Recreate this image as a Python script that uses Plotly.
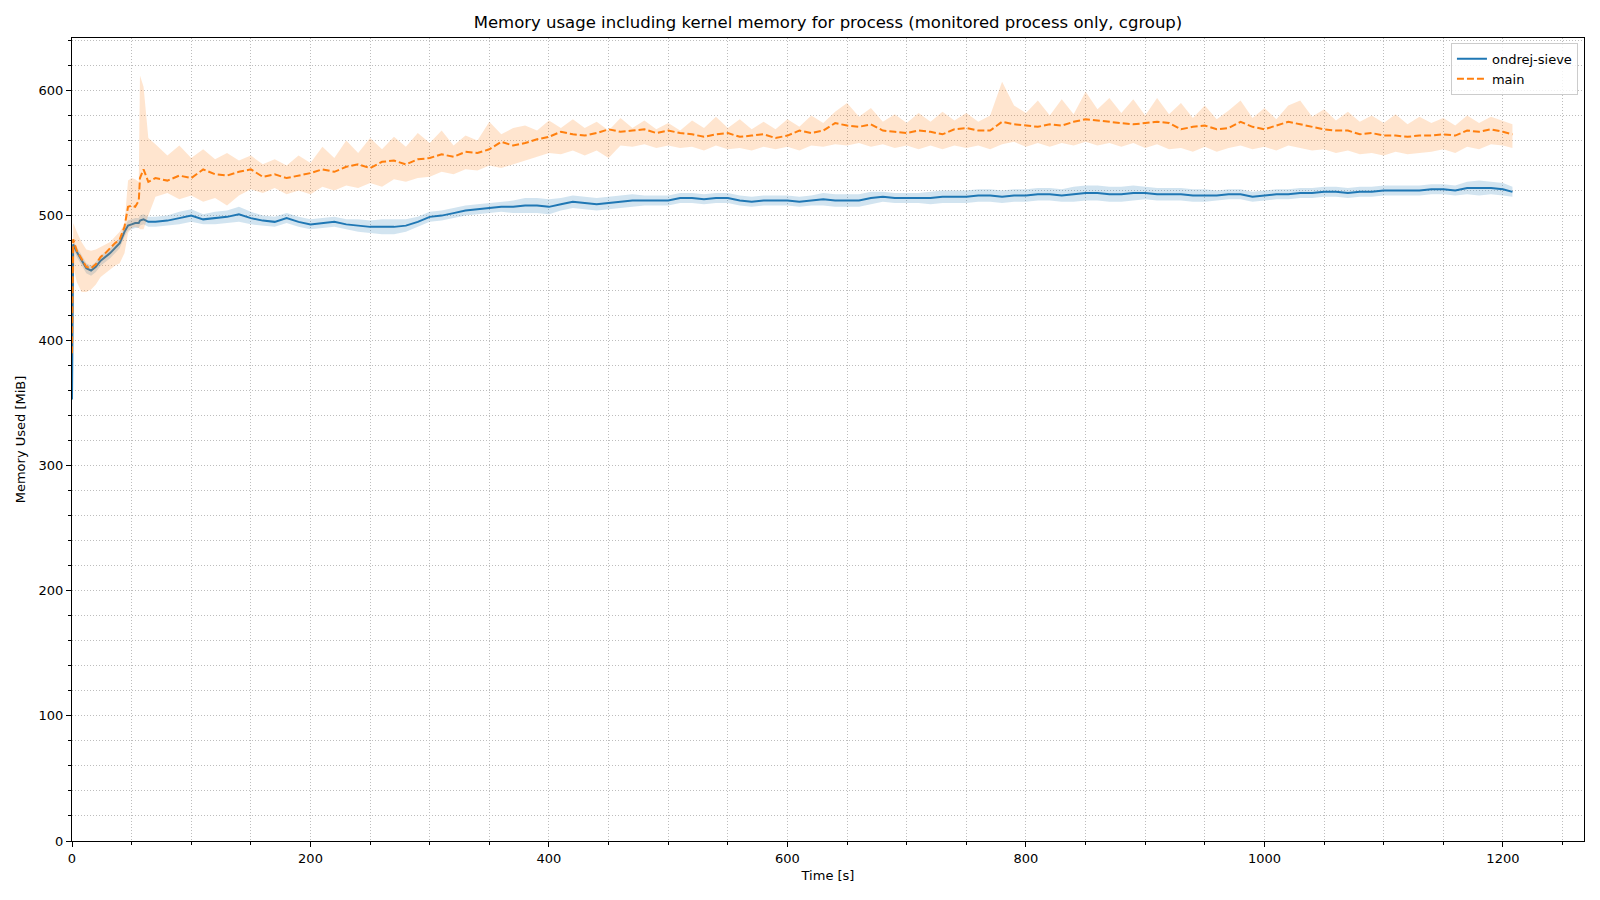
import plotly.graph_objects as go

# sample times [s]
time_early = [0, 1, 4, 8, 12, 16, 20, 24, 28, 32, 36, 40, 44, 47, 50, 53, 56, 57, 60, 64]
time_late = list(range(70, 1201, 10)) + [1208]
time = time_early + time_late

# ondrej-sieve (mean and half spread of band) [MiB]
sieve_mean = [353, 477, 471, 464, 458, 456, 459, 464, 467, 470, 474, 478, 487, 492, 493, 494, 494, 496, 497, 495,
              495, 496, 498, 500, 497, 498, 499, 501, 498, 496,
              495, 498, 495, 493, 494, 495, 493, 492, 491, 491,
              491, 492, 495, 499, 500, 502, 504, 505, 506, 507,
              507, 508, 508, 507, 509, 511, 510, 509, 510, 511,
              512, 512, 512, 512, 514, 514, 513, 514, 514, 512,
              511, 512, 512, 512, 511, 512, 513, 512, 512, 512,
              514, 515, 514, 514, 514, 514, 515, 515, 515, 516,
              516, 515, 516, 516, 517, 517, 516, 517, 518, 518,
              517, 517, 518, 518, 517, 517, 517, 516, 516, 516,
              517, 517, 515, 516, 517, 517, 518, 518, 519, 519,
              518, 519, 519, 520, 520, 520, 520, 521, 521, 520,
              522, 522, 522, 521, 519]
sieve_spread = [1, 3, 4, 4, 4, 4, 4, 4, 4, 4, 4, 4, 4, 4, 4, 4, 4, 4, 4, 4,
                4, 4, 5, 5, 4, 5, 5, 6, 5, 4,
                4, 4, 4, 4, 4, 4, 4, 5, 5, 6,
                6, 5, 4, 4, 4, 4, 4, 4, 4, 4,
                5, 6, 6, 6, 5, 5, 5, 5, 5, 5,
                5, 4, 4, 4, 4, 4, 4, 4, 4, 4,
                4, 4, 4, 4, 4, 4, 5, 5, 5, 5,
                5, 4, 4, 4, 4, 5, 5, 5, 5, 5,
                5, 5, 5, 5, 5, 5, 5, 6, 6, 6,
                6, 6, 6, 5, 5, 5, 5, 5, 5, 4,
                4, 4, 4, 4, 4, 4, 4, 4, 4, 4,
                4, 4, 4, 4, 4, 4, 4, 4, 4, 4,
                5, 6, 5, 5, 4]

# main (mean, band top, band bottom) [MiB]
main_mean = [390, 481, 472, 466, 459, 458, 461, 467, 470, 474, 478, 481, 491, 507, 508, 507, 512, 530, 537, 527,
             530, 528, 532, 530, 537, 533, 532, 535, 537, 531,
             533, 530, 532, 534, 537, 535, 539, 541, 538, 543,
             544, 541, 545, 546, 549, 547, 551, 550, 553, 559,
             556, 558, 561, 563, 567, 565, 564, 566, 569, 567,
             568, 569, 566, 568, 566, 565, 563, 565, 566, 563,
             564, 565, 562, 564, 568, 566, 568, 574, 572, 571,
             573, 568, 567, 566, 568, 567, 565, 569, 570, 568,
             568, 575, 573, 572, 571, 573, 572, 575, 577, 576,
             575, 574, 573, 574, 575, 574, 569, 571, 572, 569,
             570, 575, 571, 569, 572, 575, 573, 571, 569, 568,
             568, 565, 566, 564, 564, 563, 564, 564, 565, 564,
             568, 567, 569, 567, 565]
main_hi = [400, 494, 487, 479, 473, 472, 473, 475, 477, 479, 483, 487, 493, 528, 530, 529, 527, 612, 603, 562,
           557, 548, 556, 546, 553, 545, 550, 544, 548, 541,
           545, 540, 548, 542, 555, 546, 560, 550, 562, 553,
           563, 555, 566, 558, 568, 556, 564, 560, 575, 565,
           570, 572, 568, 576, 570, 577, 570, 575, 568, 578,
           570, 576, 569, 574, 568, 576, 570, 579, 570, 577,
           569, 575, 569, 577, 571, 580, 574, 583, 590, 579,
           586, 575, 581, 574, 582, 575, 583, 576, 582, 575,
           580, 607, 588, 582, 592, 580, 593, 581, 599, 585,
           594, 582, 593, 580, 594, 581, 590, 578, 588, 577,
           584, 592, 578, 586, 577, 588, 592, 579, 585, 576,
           583, 575, 580, 574, 581, 573, 579, 574, 578, 572,
           580, 574, 579, 576, 573]
main_lo = [380, 460, 447, 439, 439, 441, 445, 451, 454, 457, 460, 462, 470, 486, 490, 491, 490, 489, 489, 500,
           515, 518, 513, 516, 511, 514, 508, 516, 521, 518,
           522, 517, 520, 517, 523, 520, 524, 522, 526, 523,
           529, 527, 530, 531, 535, 533, 537, 536, 540, 538,
           541, 544, 547, 550, 549, 552, 548, 552, 546, 556,
           555, 557, 554, 556, 554, 555, 552, 556, 553, 554,
           552, 555, 553, 555, 552, 556, 555, 557, 556, 558,
           555, 557, 554, 556, 553, 556, 553, 556, 554, 556,
           553, 557, 559, 555, 558, 555, 558, 556, 559, 556,
           558, 555, 558, 554, 557, 553, 554, 551, 555, 551,
           554, 556, 553, 555, 552, 556, 554, 552, 553, 550,
           552, 549, 550, 548, 551, 549, 550, 551, 553, 550,
           555, 553, 557, 556, 554]

for arr in (sieve_mean, sieve_spread, main_mean, main_hi, main_lo):
    assert len(arr) == len(time), len(arr)

sieve_hi = [m + s for m, s in zip(sieve_mean, sieve_spread)]
sieve_lo = [m - s for m, s in zip(sieve_mean, sieve_spread)]

BLUE = '#1f77b4'
ORANGE = '#ff7f0e'
GRID = '#bdbdbd'
DOTS = '1px,2px'

fig = go.Figure()

fig.add_trace(go.Scatter(x=time, y=sieve_lo, mode='lines', line=dict(width=0),
                         showlegend=False, hoverinfo='skip'))
fig.add_trace(go.Scatter(x=time, y=sieve_hi, mode='lines', line=dict(width=0),
                         fill='tonexty', fillcolor='rgba(31,119,180,0.2)',
                         showlegend=False, hoverinfo='skip'))
fig.add_trace(go.Scatter(x=time, y=sieve_mean, mode='lines', name='ondrej-sieve',
                         line=dict(color=BLUE, width=2)))

fig.add_trace(go.Scatter(x=time, y=main_lo, mode='lines', line=dict(width=0),
                         showlegend=False, hoverinfo='skip'))
fig.add_trace(go.Scatter(x=time, y=main_hi, mode='lines', line=dict(width=0),
                         fill='tonexty', fillcolor='rgba(255,127,14,0.2)',
                         showlegend=False, hoverinfo='skip'))
fig.add_trace(go.Scatter(x=time, y=main_mean, mode='lines', name='main',
                         line=dict(color=ORANGE, width=2, dash='7px,3px')))

axis_common = dict(
    showline=True, linecolor='black', linewidth=1, mirror=True,
    ticks='outside', ticklen=5, tickcolor='black',
    showgrid=True, gridcolor=GRID, griddash=DOTS, gridwidth=1,
    zeroline=False,
    tickfont=dict(size=13, color='black'),
)

fig.update_xaxes(axis_common, range=[0, 1268], dtick=200, tick0=0,
                 title=dict(text='Time [s]', font=dict(size=13, color='black'), standoff=6),
                 minor=dict(dtick=50, showgrid=True, gridcolor=GRID, griddash=DOTS,
                            ticks='outside', ticklen=3, tickcolor='black'))
fig.update_yaxes(axis_common, range=[0, 642], dtick=100, tick0=0,
                 title=dict(text='Memory Used [MiB]', font=dict(size=13, color='black'), standoff=10),
                 minor=dict(dtick=20, showgrid=True, gridcolor=GRID, griddash=DOTS,
                            ticks='outside', ticklen=3, tickcolor='black'))

fig.update_layout(
    width=1600, height=900,
    template='plotly_white',
    paper_bgcolor='white', plot_bgcolor='white',
    font=dict(family='DejaVu Sans', size=13, color='black'),
    title=dict(text='Memory usage including kernel memory for process (monitored process only, cgroup)',
               x=0.5, xanchor='center', xref='paper', y=0.984, yanchor='middle',
               font=dict(size=16.5, color='black')),
    margin=dict(l=64, r=24, t=30, b=67),
    legend=dict(x=0.996, y=0.994, xanchor='right', yanchor='top', traceorder='normal',
                bgcolor='rgba(255,255,255,0.8)', bordercolor='#cccccc', borderwidth=1,
                font=dict(size=13, color='black'), tracegroupgap=2),
    showlegend=True,
)

fig.write_html("out.html")
